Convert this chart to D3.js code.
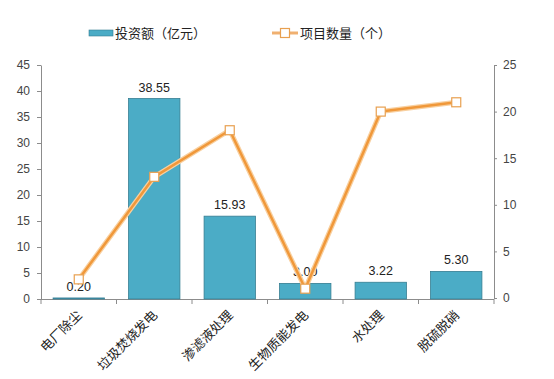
<!DOCTYPE html>
<html><head><meta charset="utf-8">
<script src="https://cdn.jsdelivr.net/npm/d3@7/dist/d3.min.js"></script>
<style>body{margin:0;background:#fff}svg{display:block}</style>
</head><body>
<script>
const categories = ["电厂除尘","垃圾焚烧发电","渗滤液处理","生物质能发电","水处理","脱硫脱硝"];
const investment = [0.20, 38.55, 15.93, 3.00, 3.22, 5.30];
const projects = [2, 13, 18, 1, 20, 21];
const leftTicks = [0,5,10,15,20,25,30,35,40,45];
const rightTicks = [0,5,10,15,20,25];
const seriesNames = ["投资额（亿元）","项目数量（个）"];

const W=554,H=379;
const svg=d3.select("body").append("svg").attr("width",W).attr("height",H);
const font="'Noto Sans CJK SC', 'Liberation Sans', Arial, sans-serif";
const x=d3.scaleBand().domain(categories).range([41,494]).paddingInner(0.32).paddingOuter(0.16);
const xb=d3.scaleBand().domain(categories).range([41,494]);
const yL=d3.scaleLinear().domain([0,45]).range([299,65]);
const yR=d3.scaleLinear().domain([0,25]).range([298,65]);

// axes
const gl=svg.append("g").attr("transform","translate(41,0)").call(d3.axisLeft(yL).tickValues(leftTicks).tickSize(4).tickSizeOuter(0));
const gr=svg.append("g").attr("transform","translate(494,0)").call(d3.axisRight(yR).tickValues(rightTicks).tickSize(3).tickSizeOuter(0));
[gl,gr].forEach(g=>{g.select(".domain").attr("stroke","#8c8c8c");g.selectAll(".tick line").attr("stroke","#8c8c8c");
 g.selectAll("text").attr("font-family","'Liberation Sans', Arial, sans-serif").attr("font-size",12).attr("fill","#444");});
gl.selectAll("text").attr("x",-11);
gr.selectAll("text").attr("x",9);

// x axis
svg.append("line").attr("x1",41).attr("x2",494).attr("y1",299.5).attr("y2",299.5).attr("stroke","#8c8c8c");
const bounds=categories.map(c=>xb(c)).concat([494]);
svg.selectAll(".xt").data(bounds).enter().append("line").attr("x1",d=>d).attr("x2",d=>d).attr("y1",299).attr("y2",304).attr("stroke","#8c8c8c");
svg.selectAll(".xl").data(categories).enter().append("text")
 .attr("transform",d=>`translate(${xb(d)+xb.bandwidth()/2+4},${316}) rotate(-45)`)
 .attr("text-anchor","end").attr("font-family",font).attr("font-size",13).attr("fill","#222").text(d=>d);

// bars
svg.selectAll(".bar").data(investment).enter().append("rect")
 .attr("x",(d,i)=>x(categories[i])).attr("width",x.bandwidth())
 .attr("y",d=>yL(d)).attr("height",d=>yL(0)-yL(d))
 .attr("fill","#4bacc6").attr("stroke","#357d92").attr("stroke-width",0.8);
svg.selectAll(".bl").data(investment).enter().append("text")
 .attr("x",(d,i)=>x(categories[i])+x.bandwidth()/2).attr("y",d=>yL(d)-7)
 .attr("text-anchor","middle").attr("font-family","'Liberation Sans', Arial, sans-serif").attr("font-size",12.5).attr("fill","#222")
 .text(d=>d.toFixed(2));

// line
const cx=(i)=>xb(categories[i])+xb.bandwidth()/2;
const line=d3.line().x((d,i)=>cx(i)).y(d=>yR(d));
svg.append("path").datum(projects).attr("d",line).attr("fill","none").attr("stroke","#f8d0a0").attr("stroke-width",5).attr("stroke-linejoin","round");
svg.append("path").datum(projects).attr("d",line).attr("fill","none").attr("stroke","#f0983a").attr("stroke-width",2.5).attr("stroke-linejoin","round");
svg.selectAll(".mk").data(projects).enter().append("rect")
 .attr("x",(d,i)=>cx(i)-4.5).attr("y",d=>yR(d)-4.5).attr("width",9).attr("height",9)
 .attr("fill","#fff").attr("stroke","#e8a050").attr("stroke-width",1.2);

// legend
svg.append("rect").attr("x",89).attr("y",30).attr("width",24).attr("height",6).attr("fill","#4bacc6").attr("stroke","#357d92").attr("stroke-width",0.6);
svg.append("text").attr("x",115).attr("y",38).attr("font-family",font).attr("font-size",13).attr("fill","#222").text(seriesNames[0]);
svg.append("line").attr("x1",272).attr("x2",298).attr("y1",33).attr("y2",33).attr("stroke","#f0b070").attr("stroke-width",3);
svg.append("rect").attr("x",280.5).attr("y",28.5).attr("width",9).attr("height",9).attr("fill","#fff").attr("stroke","#e8a050").attr("stroke-width",1.2);
svg.append("text").attr("x",300).attr("y",38).attr("font-family",font).attr("font-size",13).attr("fill","#222").text(seriesNames[1]);
</script>
</body></html>
